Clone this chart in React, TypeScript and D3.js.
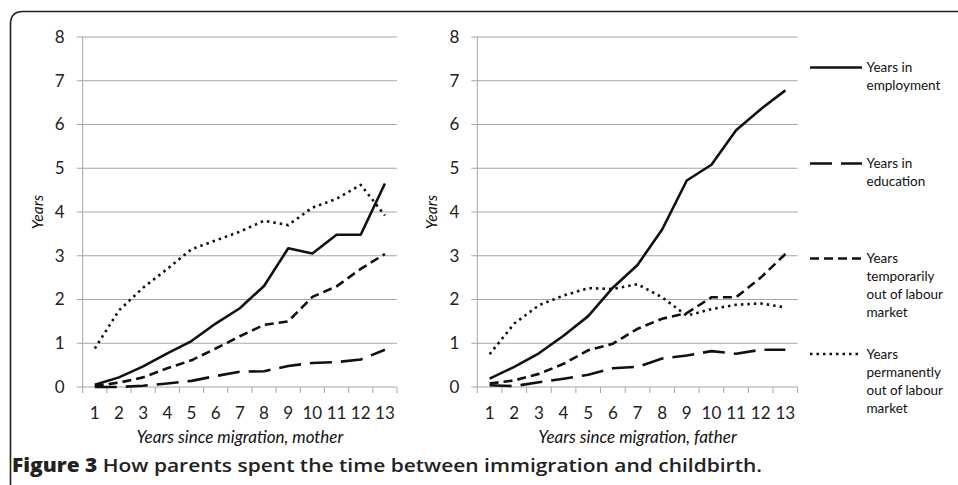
import React from "react";
import * as d3 from "d3";

const years = [1, 2, 3, 4, 5, 6, 7, 8, 9, 10, 11, 12, 13];
const yTicks = [0, 1, 2, 3, 4, 5, 6, 7, 8];

// Mother
const motherEmployment = [0.05, 0.22, 0.47, 0.77, 1.05, 1.45, 1.8, 2.31, 3.17, 3.05, 3.48, 3.48, 4.65];
const motherEducation = [0.0, 0.0, 0.03, 0.08, 0.14, 0.25, 0.35, 0.36, 0.48, 0.55, 0.57, 0.63, 0.85];
const motherTemporary = [0.02, 0.1, 0.22, 0.43, 0.61, 0.88, 1.16, 1.42, 1.5, 2.06, 2.3, 2.7, 3.04];
const motherPermanent = [0.88, 1.75, 2.27, 2.7, 3.15, 3.35, 3.55, 3.8, 3.7, 4.1, 4.3, 4.62, 3.92];

// Father
const fatherEmployment = [0.19, 0.46, 0.77, 1.17, 1.62, 2.27, 2.79, 3.6, 4.72, 5.08, 5.87, 6.35, 6.78];
const fatherEducation = [0.04, 0.02, 0.11, 0.19, 0.28, 0.43, 0.46, 0.65, 0.72, 0.82, 0.76, 0.85, 0.85];
const fatherTemporary = [0.08, 0.15, 0.3, 0.53, 0.84, 0.99, 1.33, 1.56, 1.69, 2.05, 2.05, 2.5, 3.04];
const fatherPermanent = [0.75, 1.45, 1.87, 2.09, 2.26, 2.24, 2.35, 2.05, 1.63, 1.78, 1.88, 1.91, 1.82];

const seriesNames = [
  ["Years in", "employment"],
  ["Years in", "education"],
  ["Years", "temporarily", "out of labour", "market"],
  ["Years", "permanently", "out of labour", "market"],
];
const dashes = ["none", "22,9", "9,5", "2.5,4"];

const FONT = "Lato, 'Open Sans', sans-serif";
const GRID = "#a6a6a6";
const INK = "#111";

type PanelProps = {
  x0: number;
  x1: number;
  series: number[][];
  title: string;
};

function Panel({ x0, x1, series, title }: PanelProps) {
  const x = d3.scaleBand<number>().domain(years).range([x0, x1]);
  const y = d3.scaleLinear().domain([0, 8]).range([387, 37]);
  const cx = (d: number) => (x(d) as number) + x.bandwidth() / 2;
  const line = d3
    .line<number>()
    .x((_, i) => cx(years[i]))
    .y((d) => y(d));
  const ticksX = [...years.map((d) => x(d) as number), x1];
  return (
    <g>
      {yTicks.map((t) => (
        <g key={t}>
          <line x1={x0 - 6} x2={x1} y1={y(t)} y2={y(t)} stroke={GRID} strokeWidth={1} />
          <text
            x={x0 - 18}
            y={y(t)}
            dy="0.35em"
            textAnchor="end"
            fontFamily={FONT}
            fontSize={17}
            fill="#222"
          >
            {t}
          </text>
        </g>
      ))}
      <line x1={x0} x2={x0} y1={y(8)} y2={y(0)} stroke={GRID} strokeWidth={1} />
      {ticksX.map((t, i) => (
        <line key={i} x1={t} x2={t} y1={y(0)} y2={y(0) + 6} stroke={GRID} strokeWidth={1} />
      ))}
      {years.map((d) => (
        <text
          key={d}
          x={cx(d)}
          y={y(0) + 26}
          dy="0.35em"
          textAnchor="middle"
          fontFamily={FONT}
          fontSize={17}
          fill="#222"
        >
          {d}
        </text>
      ))}
      <text
        transform={`translate(${x0 - 40},${y(4)}) rotate(-90)`}
        textAnchor="middle"
        fontFamily={FONT}
        fontStyle="italic"
        fontSize={15.5}
        fill="#111"
      >
        Years
      </text>
      <text
        x={(x0 + x1) / 2}
        y={443}
        textAnchor="middle"
        fontFamily={FONT}
        fontStyle="italic"
        fontSize={17}
        fill="#111"
      >
        {title}
      </text>
      {series.map((s, i) => (
        <path
          key={i}
          d={line(s) as string}
          fill="none"
          stroke={INK}
          strokeWidth={2.6}
          strokeDasharray={dashes[i]}
          strokeLinejoin="round"
        />
      ))}
    </g>
  );
}

export default function App() {
  const legendY = [67.5, 163.5, 258.5, 354];
  return (
    <svg
      width={958}
      height={485}
      style={{ position: "absolute", left: 0, top: 0, background: "#fff" }}
    >
      <rect x={0} y={0} width={958} height={485} fill="#fff" />
      <path
        d="M10.5,490 L10.5,24 Q10.5,11.5 23,11.5 L965,11.5"
        fill="none"
        stroke="#222"
        strokeWidth={1.6}
      />
      <Panel
        x0={82.7}
        x1={397}
        series={[motherEmployment, motherEducation, motherTemporary, motherPermanent]}
        title="Years since migration, mother"
      />
      <Panel
        x0={477.3}
        x1={797.7}
        series={[fatherEmployment, fatherEducation, fatherTemporary, fatherPermanent]}
        title="Years since migration, father"
      />
      {seriesNames.map((lines, i) => (
        <g key={i}>
          <line
            x1={810}
            x2={862}
            y1={legendY[i]}
            y2={legendY[i]}
            stroke={INK}
            strokeWidth={2.6}
            strokeDasharray={dashes[i]}
          />
          {lines.map((t, j) => (
            <text
              key={j}
              x={866.5}
              y={legendY[i] + j * 18}
              dy="0.35em"
              fontFamily={FONT}
              fontSize={13.5}
              fill="#111"
            >
              {t}
            </text>
          ))}
        </g>
      ))}
      <text
        x={12}
        y={472}
        fontFamily="'Open Sans', sans-serif"
        fontSize={18.5}
        fill="#222"
        textLength={750}
        lengthAdjust="spacingAndGlyphs"
      >
        <tspan fontWeight="800">Figure 3</tspan>
        <tspan fontWeight="600"> How parents spent the time between immigration and childbirth.</tspan>
      </text>
    </svg>
  );
}
